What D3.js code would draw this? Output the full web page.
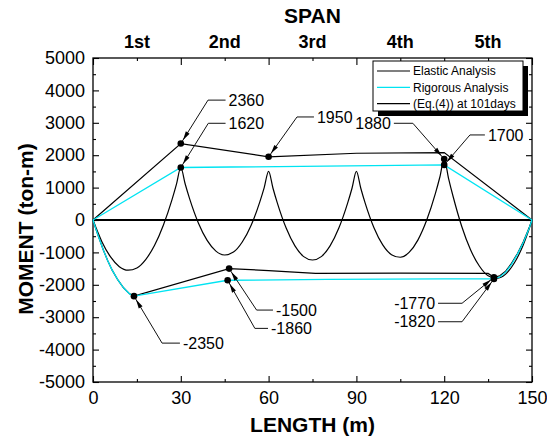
<!DOCTYPE html>
<html>
<head>
<meta charset="utf-8">
<script src="https://cdn.jsdelivr.net/npm/d3@7"></script>
<style>
    body { margin: 0; background: #fff; }
    svg text { font-family: "Liberation Sans", Arial, Helvetica, sans-serif; fill: #000; }
</style>
</head>
<body>
<div id="chart"></div>
<script>
// --- Data ---
const spanNames = ["1st", "2nd", "3rd", "4th", "5th"];
const spanCentres = [15, 45, 75, 105, 135];
const xTicks = [0, 30, 60, 90, 120, 150];
const xMinorTicks = [15, 45, 75, 105, 135];
const yTicks = [-5000, -4000, -3000, -2000, -1000, 0, 1000, 2000, 3000, 4000, 5000];
const yMinorTicks = [-4500, -3500, -2500, -1500, -500, 500, 1500, 2500, 3500, 4500];

// Elastic analysis: [length (m), moment (ton-m)]
const elastic = [
    [0, 0], [3, -660], [6, -1140], [9, -1440], [12, -1550], [15, -1480], [18, -1220], [21, -790],
    [24, -170], [27, 630], [28.5, 1100], [30, 1620],
    [31.5, 1110], [33, 660], [36, -90], [39, -630], [42, -960], [45, -1080], [48, -990], [51, -680],
    [54, -170], [57, 560], [58.5, 1000], [60, 1500],
    [61.5, 980], [63, 520], [66, -250], [69, -800], [72, -1130], [75, -1235], [78, -1130], [81, -800],
    [84, -250], [87, 520], [88.5, 980], [90, 1500],
    [91.5, 980], [93, 520], [96, -240], [99, -770], [102, -1070], [105, -1150], [108, -1000], [111, -620],
    [114, -10], [117, 820], [118.5, 1320], [120, 1880],
    [121.5, 1280], [123, 740], [126, -200], [129, -920], [132, -1420], [135, -1720], [138, -1800],
    [141, -1670], [144, -1320], [145.5, -1070], [147, -770], [148.5, -410], [150, 0]
];

// (Eq.(4)) at 101 days, upper and lower envelopes
const eq4Upper = [[0, 0], [30, 2360], [60, 1950], [90, 2060], [120, 2080], [150, 0]];
const eq4Lower = [
    [0, 0], [1, -280], [2, -540], [3.5, -920], [5, -1250], [6.5, -1540], [8.5, -1850], [10.5, -2100],
    [12.5, -2280], [14, -2350], [46.5, -1500], [60, -1560], [76, -1650], [105, -1640], [135, -1650],
    [137, -1770], [139, -1720], [141, -1580], [143, -1340], [145, -1040], [147, -680], [149, -250], [150, 0]
];

// Rigorous analysis, upper and lower envelopes
const rigorousUpper = [[0, 0], [30, 1620], [120, 1700], [150, 0]];
const rigorousLower = [
    [0, 0], [1, -280], [2, -540], [3.5, -920], [5, -1250], [6.5, -1540], [8.5, -1850], [10.5, -2100],
    [12.5, -2280], [14, -2350], [46, -1860], [80, -1835], [120, -1815], [137, -1820], [139, -1760],
    [141, -1610], [143, -1370], [145, -1060], [147, -700], [149, -260], [150, 0]
];

// Marked values
const calloutLabels = ["2360", "1620", "1950", "1880", "1700", "-2350", "-1500", "-1860", "-1770", "-1820"];
const calloutPoints = [[30, 2360], [30, 1620], [60, 1950], [120, 1880], [120, 1700],
    [14, -2350], [46.5, -1500], [46, -1860], [137, -1770], [137, -1820]];

const legendLabels = ["Elastic Analysis", "Rigorous Analysis", "(Eq.(4)) at 101days"];

// --- Layout (leader elbow x, elbow moment, end x) ---
const calloutElbows = [
    [39.3, 3700, 45.3], [39.4, 2985, 45.3], [69.7, 3180, 75.5], [109.3, 2985, 102.8], [128.8, 2625, 133.9],
    [23.6, -3800, 29.7], [55.9, -2780, 61.5], [55.3, -3345, 59.8], [126.1, -2570, 117.9], [126.1, -3140, 117.9]
];

const W = 547, H = 440;
const margin = { left: 93, right: 15, top: 58, bottom: 58 };
const CYAN = "#00e4f2";

const svg = d3.select("#chart").append("svg")
    .attr("width", W)
    .attr("height", H);

const x = d3.scaleLinear().domain([0, 150]).range([margin.left, W - margin.right]);
const y = d3.scaleLinear().domain([-5000, 5000]).range([H - margin.bottom, margin.top]);

// --- Axes ---
function styleAxis(g) {
    g.select(".domain").remove();
    g.selectAll("line").attr("stroke", "#000").attr("stroke-width", 1.1);
}

svg.append("g")
    .attr("transform", `translate(${x(0)},0)`)
    .call(d3.axisLeft(y).tickValues(yTicks).tickSizeInner(-6).tickSizeOuter(0).tickPadding(8)
        .tickFormat(d => String(d)))
    .call(styleAxis)
    .selectAll("text").attr("font-size", "18px");

svg.append("g")
    .attr("transform", `translate(${x(0)},0)`)
    .call(d3.axisLeft(y).tickValues(yMinorTicks).tickSizeInner(-3).tickSizeOuter(0).tickFormat(""))
    .call(styleAxis);

svg.append("g")
    .attr("transform", `translate(${x(150)},0)`)
    .call(d3.axisRight(y).tickValues(yTicks).tickSizeInner(-6).tickSizeOuter(0).tickFormat(""))
    .call(styleAxis);

svg.append("g")
    .attr("transform", `translate(${x(150)},0)`)
    .call(d3.axisRight(y).tickValues(yMinorTicks).tickSizeInner(-3).tickSizeOuter(0).tickFormat(""))
    .call(styleAxis);

svg.append("g")
    .attr("transform", `translate(0,${y(-5000)})`)
    .call(d3.axisBottom(x).tickValues(xTicks).tickSizeInner(-6).tickSizeOuter(0).tickPadding(9))
    .call(styleAxis)
    .selectAll("text").attr("font-size", "18px");

svg.append("g")
    .attr("transform", `translate(0,${y(-5000)})`)
    .call(d3.axisBottom(x).tickValues(xMinorTicks).tickSizeInner(-3).tickSizeOuter(0).tickFormat(""))
    .call(styleAxis);

svg.append("g")
    .attr("transform", `translate(0,${y(5000)})`)
    .call(d3.axisTop(x).tickValues(xTicks).tickSizeInner(-7).tickSizeOuter(0).tickFormat(""))
    .call(styleAxis);

svg.append("g")
    .attr("transform", `translate(0,${y(5000)})`)
    .call(d3.axisTop(x).tickValues(xMinorTicks).tickSizeInner(-3).tickSizeOuter(0).tickFormat(""))
    .call(styleAxis);

// frame
svg.append("rect")
    .attr("x", x(0)).attr("y", y(5000))
    .attr("width", x(150) - x(0)).attr("height", y(-5000) - y(5000))
    .attr("fill", "none").attr("stroke", "#000").attr("stroke-width", 1.3);

// span labels on top
svg.selectAll(".span-label")
    .data(spanNames)
    .enter().append("text")
    .attr("class", "span-label")
    .attr("x", (d, i) => x(spanCentres[i]))
    .attr("y", 48)
    .attr("text-anchor", "middle")
    .attr("font-size", "18px")
    .attr("font-weight", "bold")
    .text(d => d);

svg.append("text")
    .attr("x", (x(0) + x(150)) / 2).attr("y", 23)
    .attr("text-anchor", "middle")
    .attr("font-size", "21px").attr("font-weight", "bold")
    .text("SPAN");

svg.append("text")
    .attr("x", (x(0) + x(150)) / 2).attr("y", 432)
    .attr("text-anchor", "middle")
    .attr("font-size", "21px").attr("font-weight", "bold")
    .text("LENGTH (m)");

svg.append("text")
    .attr("transform", `translate(33,${y(0) + 9}) rotate(-90)`)
    .attr("text-anchor", "middle")
    .attr("font-size", "21px").attr("font-weight", "bold")
    .text("MOMENT (ton-m)");

// --- Lines ---
const lineLinear = d3.line().x(d => x(d[0])).y(d => y(d[1]));
const lineSmooth = d3.line().x(d => x(d[0])).y(d => y(d[1])).curve(d3.curveMonotoneX);

const plot = svg.append("g");

plot.append("path")
    .datum([[0, 0], [150, 0]])
    .attr("d", lineLinear)
    .attr("fill", "none").attr("stroke", "#000").attr("stroke-width", 1.8);

plot.append("path")
    .datum(elastic)
    .attr("d", lineSmooth)
    .attr("fill", "none").attr("stroke", "#000").attr("stroke-width", 1.2);

[eq4Upper, eq4Lower].forEach(s => {
    plot.append("path")
        .datum(s)
        .attr("d", lineLinear)
        .attr("fill", "none").attr("stroke", "#000").attr("stroke-width", 1.2);
});

[rigorousUpper, rigorousLower].forEach(s => {
    plot.append("path")
        .datum(s)
        .attr("d", lineLinear)
        .attr("fill", "none").attr("stroke", CYAN).attr("stroke-width", 1.3);
});

// --- Callouts ---
const callouts = svg.append("g");
calloutPoints.forEach((p, i) => {
    const [ex, em, endX] = calloutElbows[i];
    const px = x(p[0]), py = y(p[1]);
    const bx = x(ex), by = y(em);
    const tx = x(endX);

    callouts.append("polyline")
        .attr("points", `${px},${py} ${bx},${by} ${tx},${by}`)
        .attr("fill", "none").attr("stroke", "#111").attr("stroke-width", 1);

    // arrowhead pointing at the marker
    const dx = bx - px, dy = by - py;
    const len = Math.hypot(dx, dy);
    const ux = dx / len, uy = dy / len;
    const tip = [px + ux * 4, py + uy * 4];
    const base = [px + ux * 13, py + uy * 13];
    const hw = 2.2;
    callouts.append("path")
        .attr("d", `M${tip[0]},${tip[1]}L${base[0] - uy * hw},${base[1] + ux * hw}L${base[0] + uy * hw},${base[1] - ux * hw}Z`)
        .attr("fill", "#000");

    callouts.append("circle")
        .attr("cx", px).attr("cy", py).attr("r", 3.3)
        .attr("fill", "#000");

    const right = endX > ex;
    callouts.append("text")
        .attr("x", right ? tx + 3 : tx - 3)
        .attr("y", by)
        .attr("dy", "0.36em")
        .attr("text-anchor", right ? "start" : "end")
        .attr("font-size", "16px")
        .text(calloutLabels[i]);
});

// --- Legend ---
const legend = svg.append("g").attr("transform", "translate(373,61)");
legend.append("rect")
    .attr("x", 5).attr("y", 5).attr("width", 150).attr("height", 50)
    .attr("fill", "#000");
legend.append("rect")
    .attr("x", 0).attr("y", 0).attr("width", 150).attr("height", 50)
    .attr("fill", "#fff").attr("stroke", "#000").attr("stroke-width", 1);

const legendColors = ["#000", CYAN, "#000"];
legendLabels.forEach((lab, i) => {
    const ly = 10 + i * 16.3;
    legend.append("line")
        .attr("x1", 4).attr("x2", 37).attr("y1", ly).attr("y2", ly)
        .attr("stroke", legendColors[i]).attr("stroke-width", 1.2);
    legend.append("text")
        .attr("x", 40).attr("y", ly).attr("dy", "0.36em")
        .attr("font-size", "12px")
        .text(lab);
});
</script>
</body>
</html>
